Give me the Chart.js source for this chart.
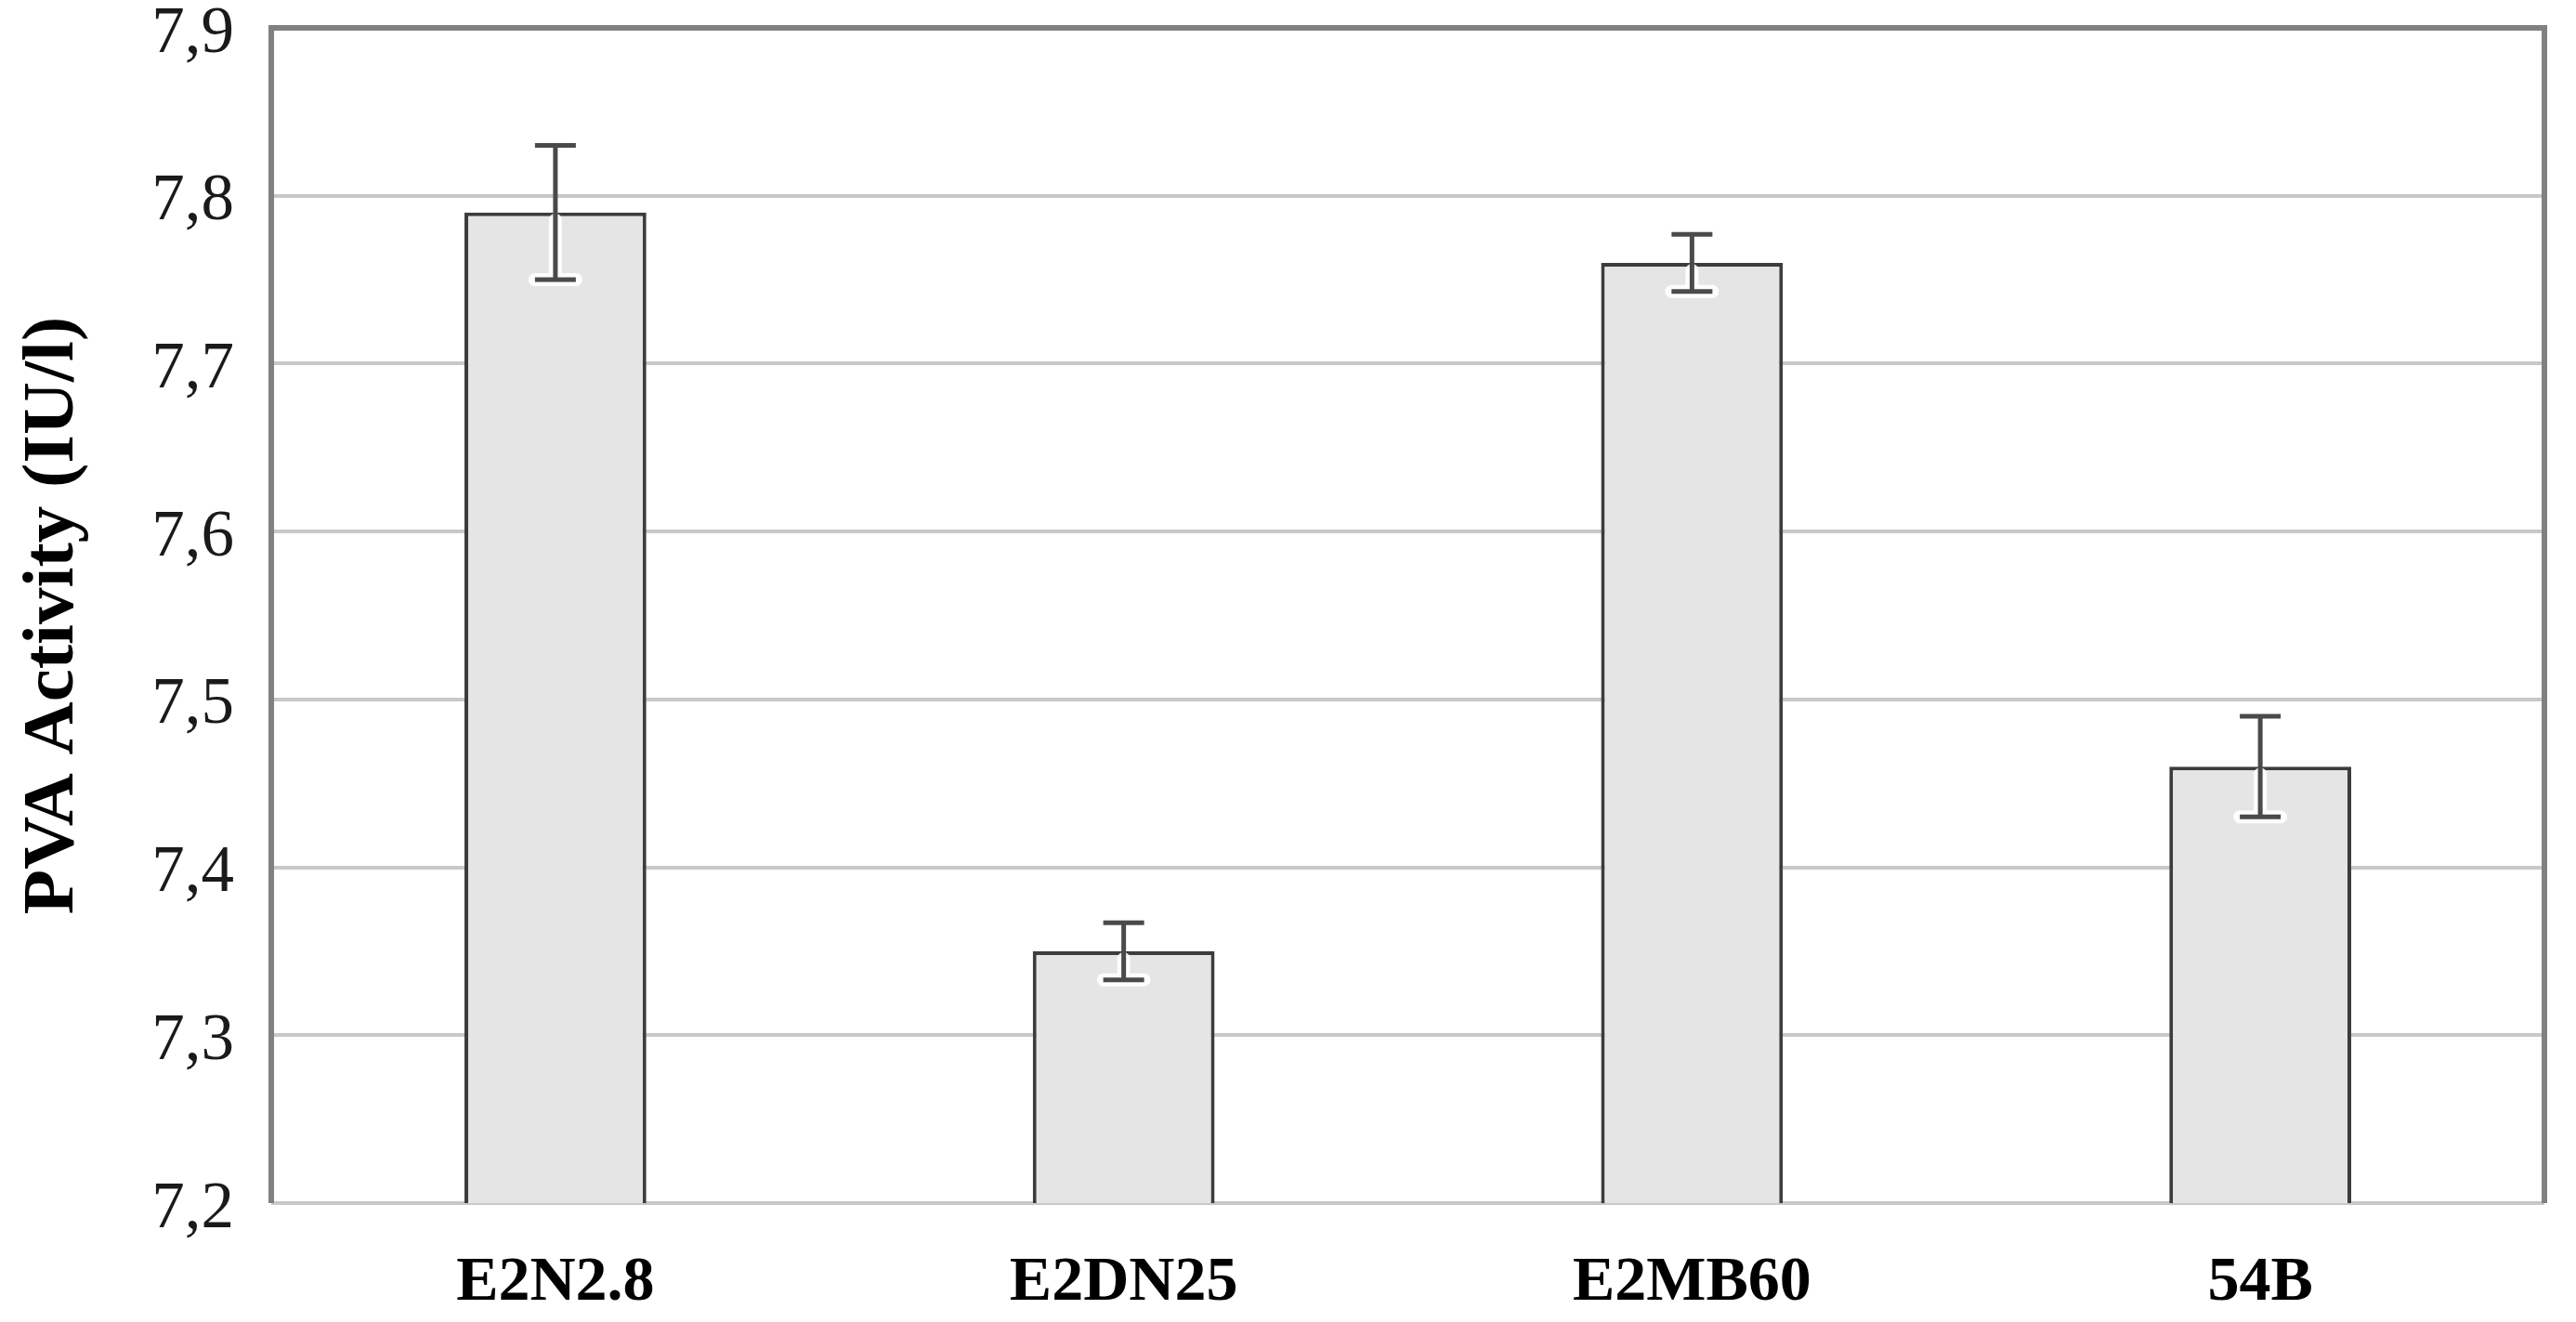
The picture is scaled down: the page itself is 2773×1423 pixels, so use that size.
<!DOCTYPE html>
<html>
<head>
<meta charset="utf-8">
<script src="https://cdn.jsdelivr.net/npm/chart.js@4/dist/chart.umd.min.js"></script>
<style>
  html, body { margin: 0; padding: 0; background: #fff; }
  #wrap { width: 2773px; height: 1423px; }
</style>
</head>
<body>
<div id="wrap"><canvas id="chartPva" width="2773" height="1423"></canvas></div>
<script>
const categories = ['E2N2.8', 'E2DN25', 'E2MB60', '54B'];
const pvaActivity = [7.79, 7.35, 7.76, 7.46];
const pvaError = [0.04, 0.017, 0.017, 0.03];
const yTicks = [7.2, 7.3, 7.4, 7.5, 7.6, 7.7, 7.8, 7.9];

// error bars drawn with the chart's own scales
const errorBars = {
  id: 'errorBars',
  afterDatasetsDraw(chart) {
    const ctx = chart.ctx;
    const x = chart.scales.x;
    const y = chart.scales.y;
    ctx.save();
    pvaActivity.forEach((v, i) => {
      const cx = x.getPixelForValue(i);
      const top = y.getPixelForValue(v + pvaError[i]);
      const bot = y.getPixelForValue(v - pvaError[i]);
      const hw = 22;
      // white halo
      ctx.strokeStyle = 'rgba(255,255,255,0.9)';
      ctx.lineWidth = 14;
      ctx.lineCap = 'round';
      ctx.beginPath();
      ctx.moveTo(cx, y.getPixelForValue(v) + 8);
      ctx.lineTo(cx, bot);
      ctx.moveTo(cx - hw, bot);
      ctx.lineTo(cx + hw, bot);
      ctx.stroke();
      ctx.lineCap = 'butt';
      ctx.strokeStyle = '#4a4a4a';
      ctx.lineWidth = 5;
      ctx.beginPath();
      ctx.moveTo(cx, top);
      ctx.lineTo(cx, bot);
      ctx.moveTo(cx - hw, top);
      ctx.lineTo(cx + hw, top);
      ctx.moveTo(cx - hw, bot);
      ctx.lineTo(cx + hw, bot);
      ctx.stroke();
    });
    ctx.restore();
  }
};

// plot frame: top, left, right
const plotFrame = {
  id: 'plotFrame',
  afterDraw(chart) {
    const {left, right, top, bottom} = chart.chartArea;
    const ctx = chart.ctx;
    ctx.save();
    ctx.strokeStyle = '#808080';
    ctx.lineWidth = 6;
    ctx.beginPath();
    ctx.moveTo(left, bottom);
    ctx.lineTo(left, top);
    ctx.lineTo(right, top);
    ctx.lineTo(right, bottom);
    ctx.stroke();
    ctx.restore();
  }
};

new Chart(document.getElementById('chartPva').getContext('2d'), {
  type: 'bar',
  data: {
    labels: categories,
    datasets: [{
      label: 'PVA Activity',
      data: pvaActivity,
      backgroundColor: '#e5e5e5',
      borderColor: '#3c3c3c',
      borderWidth: 4,
      borderSkipped: 'bottom',
      barPercentage: 0.32,
      categoryPercentage: 1
    }]
  },
  options: {
    responsive: false,
    animation: false,
    layout: { padding: { top: 30, right: 34, bottom: 0, left: 0 } },
    plugins: { legend: { display: false }, tooltip: { enabled: false } },
    scales: {
      x: {
        grid: { display: false },
        border: { display: false },
        ticks: {
          color: '#000',
          padding: 38,
          font: { family: 'Liberation Serif', size: 68, weight: 'bold' }
        },
        afterFit(scale) { scale.height = 128; }
      },
      y: {
        min: 7.2,
        max: 7.9,
        afterBuildTicks(scale) { scale.ticks = yTicks.map(v => ({ value: v })); },
        grid: { color: '#c8c8c8', lineWidth: 4, drawTicks: false },
        border: { display: false },
        ticks: {
          color: '#1a1a1a',
          padding: 40,
          labelOffset: 7,
          font: { family: 'Liberation Serif', size: 71 },
          callback: v => v.toFixed(1).replace('.', ',')
        },
        title: {
          display: true,
          text: 'PVA Activity (IU/l)',
          color: '#000',
          padding: { top: 10, bottom: 0 },
          font: { family: 'Liberation Serif', size: 79, weight: 'bold' }
        },
        afterFit(scale) {
          scale.width = 292;
          scale.paddingTop = 0;
          scale.paddingBottom = 0;
        }
      }
    }
  },
  plugins: [errorBars, plotFrame]
});
</script>
</body>
</html>
